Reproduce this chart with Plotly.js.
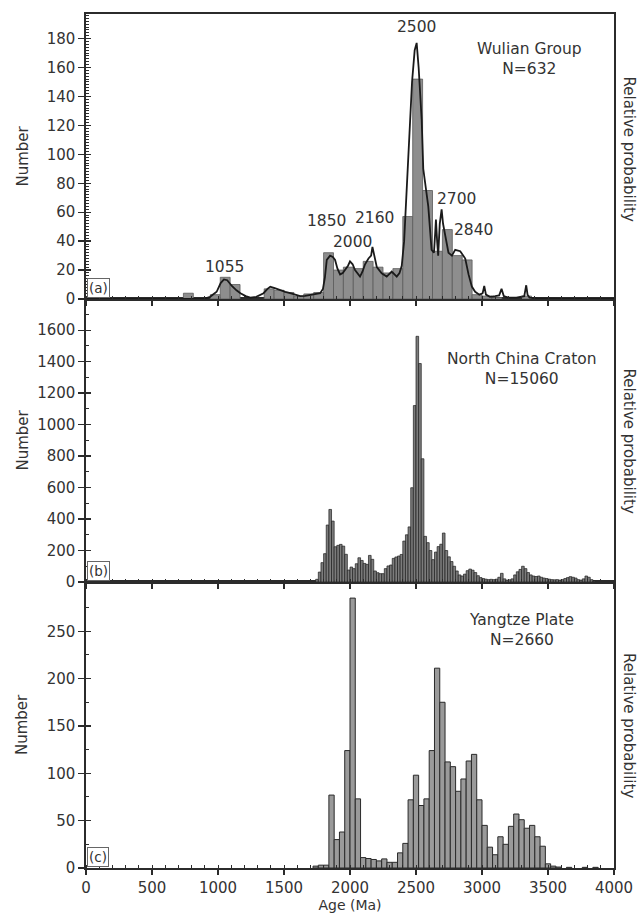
<!DOCTYPE html>
<html><head><meta charset="utf-8">
<script src="https://cdn.plot.ly/plotly-3.0.1.min.js"></script>
<style>html,body{margin:0;padding:0;background:#fff}#chart{width:641px;height:916px}</style>
</head><body><div id="chart"></div>
<script>
// ---------- Panel (a) Wulian Group ----------
const wulianBinWidth = 75;
const wulianBinStart = [738, 942, 1017, 1092, 1350, 1425, 1500, 1575, 1650, 1725, 1800, 1875, 1950, 2025, 2100, 2175, 2250, 2325, 2400, 2475, 2550, 2625, 2700, 2775, 2850, 2925, 3000, 3075, 3300];
const wulianCounts   = [4, 3, 15, 10, 7, 6, 4.5, 2, 3.5, 4.5, 32, 20, 22, 21, 26, 22, 18, 21, 57, 152, 75, 33, 48, 30, 27, 3, 2, 1, 2];
const wulianCurveAge = [0, 700, 900, 940, 990, 1020, 1045, 1070, 1105, 1140, 1170, 1210, 1245, 1290, 1345, 1375, 1396, 1430, 1471, 1510, 1547, 1590, 1623, 1660, 1699, 1740, 1774, 1795, 1810, 1824, 1849, 1870, 1887, 1905, 1925, 1945, 1963, 1985, 2000, 2020, 2038, 2076, 2095, 2114, 2140, 2160, 2170, 2185, 2203, 2240, 2278, 2316, 2354, 2375, 2392, 2410, 2430, 2450, 2470, 2490, 2505, 2520, 2543, 2555, 2568, 2593, 2618, 2636, 2645, 2651, 2660, 2668, 2680, 2694, 2705, 2721, 2746, 2772, 2797, 2835, 2873, 2898, 2923, 2948, 2980, 3005, 3017, 3030, 3060, 3100, 3130, 3148, 3165, 3200, 3260, 3320, 3335, 3345, 3360, 3420, 3500, 3600, 4000];
const wulianCurveVal = [0, 0, 0.3, 1.5, 5, 11, 13.5, 13, 9, 6, 4, 2, 1, 1.5, 4, 7, 8.5, 7.5, 6, 5, 4, 3, 2, 2.2, 2.8, 3.5, 4, 7, 15, 27, 30, 29, 27, 21, 17, 18, 20, 23, 26, 24, 20, 15.5, 19, 24, 28, 30, 36, 29, 22, 17.8, 15.5, 19, 15.5, 18, 23, 40, 75, 115, 150, 172, 177, 160, 124, 90, 82, 64, 34, 32, 45, 55, 40, 30, 52, 62, 52, 45, 32, 30, 34, 33, 28, 17, 8.6, 5, 3, 4, 9, 3, 1.5, 2, 2.5, 7, 2, 1, 1, 2, 9.5, 3, 1, 0.5, 0.3, 0, 0];
const wulianPeakLabels = ["1055", "1850", "2000", "2160", "2500", "2700", "2840"];

// ---------- Panel (b) North China Craton ----------
const ncBinWidth = 20;
const ncBinStart = [1740,1760,1780,1800,1820,1840,1860,1880,1900,1920,1940,1960,1980,2000,2020,2040,2060,2080,2100,2120,2140,2160,2180,2200,2220,2240,2260,2280,2300,2320,2340,2360,2380,2400,2420,2440,2460,2480,2500,2520,2540,2560,2580,2600,2620,2640,2660,2680,2700,2720,2740,2760,2780,2800,2820,2840,2860,2880,2900,2920,2940,2960,2980,3000,3020,3040,3060,3080,3100,3120,3140,3160,3180,3200,3220,3240,3260,3280,3300,3320,3340,3360,3380,3400,3420,3440,3460,3480,3500,3520,3540,3560,3580,3600,3620,3640,3660,3680,3700,3720,3740,3760,3780,3800,3820,3840];
const ncCounts   = [17,63,123,180,362,461,387,224,233,239,228,176,76,95,85,116,154,137,118,112,169,144,70,59,53,53,85,102,108,150,159,165,175,260,300,350,599,1121,1561,1388,783,290,250,200,142,190,225,240,311,200,160,130,100,70,45,38,50,72,82,75,60,40,28,22,18,15,17,15,18,30,55,20,12,14,20,45,65,80,100,85,60,45,38,35,38,30,25,22,18,15,14,15,12,15,22,28,34,30,25,15,12,20,38,30,15,5];

// ---------- Panel (c) Yangtze Plate ----------
const yzBinWidth = 40;
const yzBinStart = [1720,1760,1800,1840,1880,1920,1960,2000,2040,2080,2120,2160,2200,2240,2280,2320,2360,2400,2440,2480,2520,2560,2600,2640,2680,2720,2760,2800,2840,2880,2920,2960,3000,3040,3080,3120,3160,3200,3240,3280,3320,3360,3400,3440,3480,3520,3560,3640,3760,3840];
const yzCounts   = [2,3,3,77,30,38,124,285,73,11,10,9,7.5,9.6,6,6,16,26,72,98,66,73,124,211,175,112,107,81,94,113,120,72,45,22,14,33,25,44,57,51,42,45,33,23,4.4,2,1,0.7,0.7,0.7];

// ---------- Texts / ticks ----------
const panelTitles = ["Wulian Group<br>N=632", "North China Craton<br>N=15060", "Yangtze Plate<br>N=2660"];
const panelTags = ["(a)", "(b)", "(c)"];
const xTitle = "Age (Ma)";
const yTitle = "Number";
const rightTitle = "Relative probability";
const yTicksA = [0,20,40,60,80,100,120,140,160,180];
const yTicksB = [0,200,400,600,800,1000,1200,1400,1600];
const yTicksC = [0,50,100,150,200,250];

(function(){
const FONT = "DejaVu Sans, Liberation Sans, Arial, sans-serif";
const TXT = "#333";
const AX = "#2b2b2b";

function centers(starts, w){ return starts.map(s => s + w/2); }

const traces = [
  {type:'bar', x:centers(wulianBinStart, wulianBinWidth), y:wulianCounts, width:wulianBinWidth,
   xaxis:'x3', yaxis:'y3', marker:{color:'#8e8e8e', line:{color:'#5a5a5a', width:0.8}}},
  {type:'scatter', mode:'lines', x:wulianCurveAge, y:wulianCurveVal, xaxis:'x3', yaxis:'y3',
   line:{color:'#1a1a1a', width:1.8}},
  {type:'bar', x:centers(ncBinStart, ncBinWidth), y:ncCounts, width:ncBinWidth,
   xaxis:'x2', yaxis:'y2', marker:{color:'#7c7c7c', line:{color:'#1e1e1e', width:0.7}}},
  {type:'bar', x:centers(yzBinStart, yzBinWidth), y:yzCounts, width:yzBinWidth,
   xaxis:'x', yaxis:'y', marker:{color:'#9a9a9a', line:{color:'#2a2a2a', width:1}}},
  // empty helpers so the tick-overlay axes are drawn
  {type:'scatter', x:[], y:[], xaxis:'x', yaxis:'y4', hoverinfo:'skip'},
  {type:'scatter', x:[], y:[], xaxis:'x2', yaxis:'y5', hoverinfo:'skip'},
  {type:'scatter', x:[], y:[], xaxis:'x3', yaxis:'y6', hoverinfo:'skip'}
];

const H = 916, mTop = 14, mBot = 48;
const plotH = H - mTop - mBot;
const dc = [0, 286/plotH], db = [286/plotH, 569/plotH], da = [569/plotH, 1];

function xax(anchor, showLabels){
  return {anchor:anchor, range:[0,4000], tick0:0, dtick:500, ticks:'outside', ticklen:5, tickwidth:1.3, tickcolor:AX,
    minor:{dtick:100, ticks:'inside', ticklen:3, tickwidth:1, tickcolor:AX},
    showline:true, linecolor:AX, linewidth:1.6, mirror:true, showgrid:false, zeroline:false,
    showticklabels:showLabels, tickfont:{family:FONT, size:15, color:TXT}, fixedrange:true};
}
function yax(anchor, dom, range, tickv, minor){
  return {anchor:anchor, domain:dom, range:range, tickmode:'array', tickvals:tickv, ticks:'outside', ticklen:6, tickwidth:1.3, tickcolor:AX,
    minor:{tickmode:'linear', tick0:0, dtick:minor, ticks:'inside', ticklen:3, tickwidth:1, tickcolor:AX},
    showline:true, linecolor:AX, linewidth:1.6, mirror:true, showgrid:false, zeroline:false,
    tickfont:{family:FONT, size:15, color:TXT}, fixedrange:true};
}
function yin(over, anchor, range, tickv){
  return {overlaying:over, anchor:anchor, range:range, tickmode:'array', tickvals:tickv, ticks:'inside', ticklen:5, tickwidth:1.3,
    tickcolor:AX, showticklabels:false, showline:false, showgrid:false, zeroline:false, fixedrange:true};
}

const rA = [0, 197], rB = [0, 1798], rC = [0, 302];
const layout = {
  width:641, height:916, margin:{l:86, r:27, t:mTop, b:mBot}, paper_bgcolor:'#fff', plot_bgcolor:'#fff',
  showlegend:false, bargap:0, barmode:'overlay', font:{family:FONT, color:TXT},
  xaxis: Object.assign(xax('y', true), {title:{text:xTitle, font:{family:FONT, size:14, color:TXT}, standoff:4}}),
  xaxis2: xax('y2', false),
  xaxis3: xax('y3', false),
  yaxis: yax('x', dc, rC, yTicksC, 25),
  yaxis2: yax('x2', db, rB, yTicksB, 100),
  yaxis3: yax('x3', da, rA, yTicksA, 2),
  yaxis4: yin('y', 'x', rC, yTicksC),
  yaxis5: yin('y2', 'x2', rB, yTicksB),
  yaxis6: yin('y3', 'x3', rA, yTicksA),
  annotations: []
};

const doms = [da, db, dc];
const xr = ['x3','x2','x'], yr = ['y3','y2','y'];
const titlePos = [[3362, 166], [3300, 1354], [3300, 251]];
panelTitles.forEach((t,i)=>{
  layout.annotations.push({text:t, xref:xr[i], yref:yr[i], x:titlePos[i][0], y:titlePos[i][1], showarrow:false,
    font:{family:FONT, size:15.5, color:TXT}, xanchor:'center', yanchor:'middle', align:'center'});
});
panelTags.forEach((t,i)=>{
  layout.annotations.push({text:t, xref:xr[i], yref:yr[i], x:0, y:0, showarrow:false, xanchor:'left', yanchor:'bottom',
    font:{family:FONT, size:13.5, color:TXT}, bordercolor:'#666', borderwidth:1, borderpad:1, bgcolor:'#fff', xshift:0.5, yshift:1});
});
doms.forEach((d,i)=>{
  const mid = (d[0]+d[1])/2;
  layout.annotations.push({text:yTitle, xref:'paper', yref:'paper', x:0, y:mid, xshift:-64, showarrow:false,
    textangle:-90, font:{family:FONT, size:15, color:TXT}, xanchor:'center', yanchor:'middle'});
  layout.annotations.push({text:rightTitle, xref:'paper', yref:'paper', x:1, y:mid, xshift:15, yshift:(i===0?8:0), showarrow:false,
    textangle:90, font:{family:FONT, size:15, color:TXT}, xanchor:'center', yanchor:'middle'});
});
const peakPos = [[1048, 22.4], [1824, 53.6], [2021, 39.7], [2182, 56], [2505, 188], [2808, 69], [2933, 47.8]];
wulianPeakLabels.forEach((t,i)=>{
  layout.annotations.push({text:t, xref:'x3', yref:'y3', x:peakPos[i][0], y:peakPos[i][1], showarrow:false,
    font:{family:FONT, size:15.5, color:TXT}, xanchor:'center', yanchor:'middle'});
});

Plotly.newPlot('chart', traces, layout, {displayModeBar:false, staticPlot:true});
})();
</script></body></html>
